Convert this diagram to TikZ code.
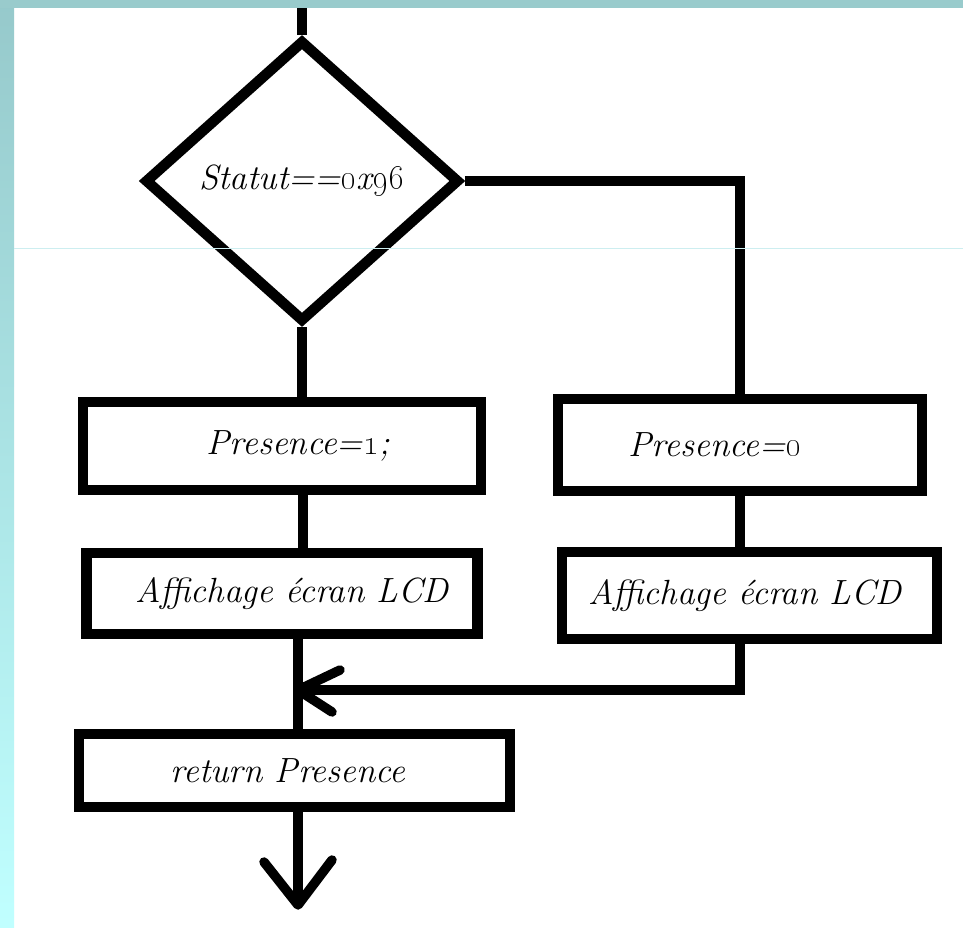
\documentclass[tikz,border=0pt]{standalone}
\usetikzlibrary{shapes.geometric}
\definecolor{stripdark}{RGB}{150,201,203}
\definecolor{striplight}{RGB}{192,255,255}
\definecolor{topstrip}{RGB}{153,203,204}
\definecolor{rulecol}{RGB}{205,238,240}
\begin{document}
\begin{tikzpicture}[x=1pt,y=-1pt,
  every node/.style={font=\fontsize{35}{40}\selectfont\itshape},
  box/.style={draw, line width=10.5pt, rectangle, inner sep=0pt},
  decision/.style={draw, line width=10.5pt, diamond, inner sep=0pt,
                   minimum width=315pt, minimum height=282pt},
  link/.style={line width=9.5pt},
  tip/.style={line width=9.5pt, line cap=round, line join=round}]

% page background, side and top bands
\useasboundingbox (0,0) rectangle (963,928);
\fill[white] (0,0) rectangle (963,928);
\shade[top color=stripdark, bottom color=striplight] (0,0) rectangle (14,928);
\fill[topstrip] (0,0) rectangle (963,8);

% flowchart blocks
\node[decision] (d) at (302,181)
  {Statut==\textzerooldstyle x\textnineoldstyle\textsixoldstyle};
\node[box, minimum width=398pt, minimum height=88pt] (p1) at (282,446)
  {\hspace*{32pt}Presence=\textoneoldstyle;};
\node[box, minimum width=391pt, minimum height=81pt] (a1) at (282,593.5)
  {\hspace*{20pt}Affichage écran LCD};
\node[box, minimum width=364pt, minimum height=92pt] (p0) at (740,445)
  {Presence=\textzerooldstyle\hspace*{50pt}};
\node[box, minimum width=375pt, minimum height=87pt] (a0) at (749.5,595.5)
  {Affichage écran LCD\hspace*{9pt}};
\node[box, minimum width=431pt, minimum height=73pt] (ret) at (294.5,770.5)
  {return Presence\hspace*{13pt}};

\coordinate (top) at (302,8);
\coordinate (m) at (298,690);
\coordinate (end) at (298,905);

% connectors
\draw[link] (d.north) -- (top);
\draw[link] (d.east) -| (p0.north);
\draw[link] (d.south) -- (d.south |- p1.north);
\draw[link] ([xshift=21pt]p1.south) -- ([xshift=21pt]p1.south |- a1.north);
\draw[link] (p0.south) -- (p0.south |- a0.north);
\draw[link] (p0.south |- a0.south) -- (p0.south |- m) -- (m);
\draw[link] (m |- a1.south) -- (m |- ret.north);
\draw[tip] (m) ++(42,-20) -- (m) -- ++(34,22);
\draw[link] (m |- ret.south) -- (end);
\draw[tip] (end) ++(-34,-43) -- (end) -- ++(34,-45);

% thin guide rule across the page
\draw[rulecol, line width=1pt] (14,248) -- (963,248);
\end{tikzpicture}
\end{document}
